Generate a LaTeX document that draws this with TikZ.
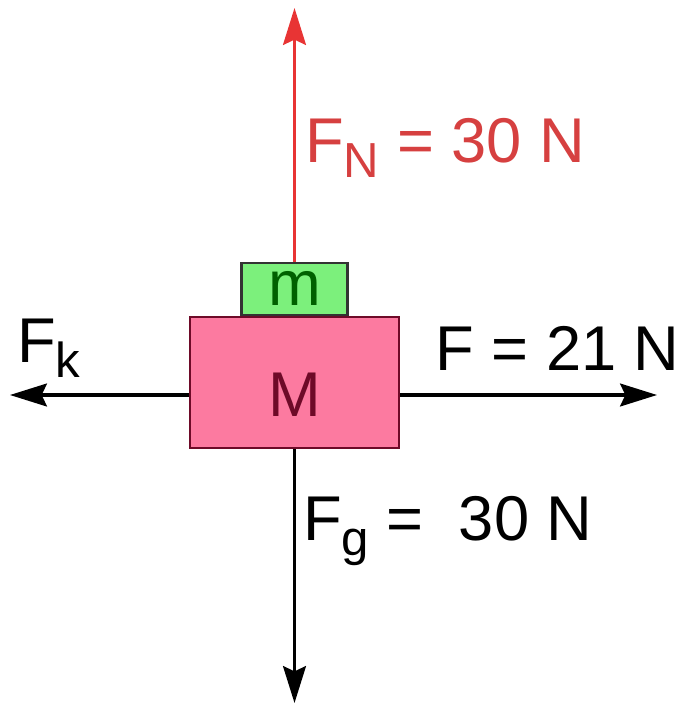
\documentclass[tikz,border=0pt]{standalone}
\usepackage{fontspec}
\setmainfont{Liberation Sans}
\usepackage{xcolor}
\usepackage{tikz}
\usetikzlibrary{
	arrows.meta,
	positioning
}

\definecolor{boxpink}{RGB}{252,122,160}
\definecolor{boxgreen}{RGB}{124,240,124}
\definecolor{forcered}{RGB}{232,52,52}
\definecolor{labelred}{RGB}{214,64,64}
\definecolor{darkmaroon}{RGB}{110,10,40}
\definecolor{darkgreen}{RGB}{0,96,0}

\newcommand{\lowsub}[1]{\raisebox{-0.24em}{\fontsize{28}{30}\selectfont #1}}

\begin{document}
\begin{tikzpicture}[x=0.02cm,y=-0.02cm,
	force/.style={line width=1.9pt,-{Stealth[length=21pt,width=13pt,inset=3pt]}},
	lbl/.style={inner sep=0pt,anchor=base west,font=\fontsize{36}{40}\selectfont}]
		
		\useasboundingbox (0,0) rectangle (679,706);
		
		%---------------- Blocks ----------------%
		
		\node[draw=darkmaroon,line width=1.2pt,fill=boxpink,minimum width=4.18cm,minimum height=2.62cm,inner sep=0pt] (M) at (294.5,382.5) {};
		
		\node[draw=black!80,line width=1.2pt,fill=boxgreen,minimum width=2.12cm,minimum height=1.04cm,inner sep=0pt,text=darkgreen,font=\fontsize{36}{40}\selectfont,above=0pt of M] (m) {m};
		
		\node[text=darkmaroon,font=\fontsize{36}{40}\selectfont,inner sep=0pt] (Mlab) at (295,395) {M};
		
		%---------------- Forces ----------------%
		
		\coordinate (top) at (294.5,8);
		\coordinate (bottom) at (294.5,703);
		\coordinate (left) at (10,395);
		\coordinate (right) at (657,395);
		
		\draw[force,forcered] (m.north) -- (top);
		\draw[force] (M.south) -- (bottom);
		\draw[force] (M.west |- left) -- (left);
		\draw[force] (M.east |- right) -- (right);
		
		\node[lbl,text=labelred] (FN) at (305,162) {F\lowsub{N} = 30 N};
		\node[lbl] (Fk) at (17,362) {F\lowsub{k}};
		\node[lbl] (F) at (435,370) {F = 21 N};
		\node[lbl] (Fg) at (303,540) {F\lowsub{g} =\ \ 30 N};
		
	\end{tikzpicture}
\end{document}
